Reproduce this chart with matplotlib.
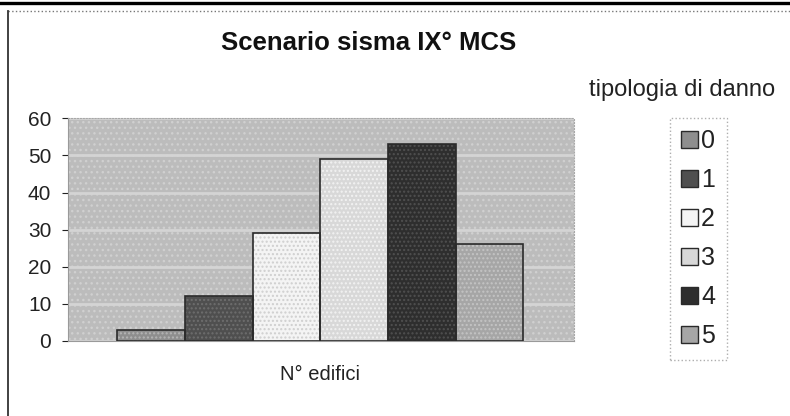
import numpy as np
import matplotlib
matplotlib.use("Agg")
import matplotlib.pyplot as plt
from matplotlib.lines import Line2D
from matplotlib.patches import Rectangle

plt.rcParams["font.family"] = ["Liberation Sans", "DejaVu Sans"]

# data
damage_types = ["0", "1", "2", "3", "4", "5"]
n_buildings = [3, 12, 29, 49, 53, 26]
category = "N° edifici"

bar_colors = ["#8e8e8e", "#4f4f4f", "#f4f4f4", "#d8d8d8", "#2e2e2e", "#a6a6a6"]
dot_colors = ["#b5b5b5", "#6e6e6e", "#cfcfcf", "#f2f2f2", "#505050", "#c4c4c4"]

fig = plt.figure(figsize=(7.9, 4.16), dpi=100)
fig.patch.set_facecolor("white")

ax = fig.add_axes([68 / 790, 1 - 341 / 416, 506 / 790, 222.7 / 416])
ax.set_facecolor("#bcbcbc")

# stippled background
ax.add_patch(Rectangle((0, 0), 1, 1, transform=ax.transAxes, facecolor="none",
                       edgecolor="#d0d0d0", hatch="...", linewidth=0, zorder=0))

x = np.arange(len(damage_types))
for i in range(len(damage_types)):
    ax.bar(x[i], n_buildings[i], width=1.0, color=bar_colors[i],
           edgecolor=dot_colors[i], hatch="....", linewidth=0, zorder=3)
    ax.bar(x[i], n_buildings[i], width=1.0, fill=False,
           edgecolor="#2a2a2a", linewidth=1.2, zorder=4)

ax.set_ylim(0, 60)
ax.set_yticks(range(0, 61, 10))
half = 7.476 / 2
ax.set_xlim(2.5 - half + 0.01, 2.5 + half + 0.01)
ax.set_xticks([2.5])
ax.set_xticklabels([category], fontsize=14.5, color="#222222")
ax.tick_params(axis="x", length=0, pad=17)
ax.tick_params(axis="y", labelsize=15, colors="#222222", length=4,
               width=0.8, pad=8)
ax.yaxis.grid(True, color="#d4d4d4", linewidth=2, zorder=1)
ax.set_axisbelow(True)
for side in ["top", "right"]:
    ax.spines[side].set_color("#a8a8a8")
    ax.spines[side].set_linestyle(":")
for side in ["left", "bottom"]:
    ax.spines[side].set_color("#9a9a9a")

fig.text(369 / 790, 1 - 43 / 416, "Scenario sisma IX° MCS", fontsize=18.5,
         fontweight="bold", ha="center", va="center", color="#111111")

# legend
handles = [Rectangle((0, 0), 1, 1, facecolor=bar_colors[i], edgecolor="#2a2a2a",
                     linewidth=1.0) for i in range(len(damage_types))]
fig.text(682 / 790, 1 - 90 / 416, "tipologia di danno", fontsize=17,
         ha="center", va="center", color="#222222")
leg = fig.legend(handles, damage_types, loc="upper left",
                 bbox_to_anchor=(670 / 790, 1 - 118 / 416), fontsize=18,
                 handlelength=0.65, handleheight=0.65, handletextpad=0.15,
                 labelspacing=0.6, borderpad=0.45, borderaxespad=0,
                 fancybox=False, frameon=True)
leg.get_frame().set_edgecolor("#9a9a9a")
leg.get_frame().set_linestyle(":")
leg.get_frame().set_linewidth(1.0)
for t in leg.get_texts():
    t.set_color("#222222")

# page frame lines
fig.add_artist(Line2D([0, 1], [1 - 3 / 416, 1 - 3 / 416], color="black",
                      linewidth=2.4, transform=fig.transFigure))
fig.add_artist(Line2D([8 / 790, 1], [1 - 11 / 416, 1 - 11 / 416], color="#777777",
                      linewidth=1.0, linestyle=":", transform=fig.transFigure))
fig.add_artist(Line2D([8 / 790, 8 / 790], [0, 1 - 11 / 416], color="#333333",
                      linewidth=1.3, transform=fig.transFigure))

fig.savefig("out.png", dpi=100)
